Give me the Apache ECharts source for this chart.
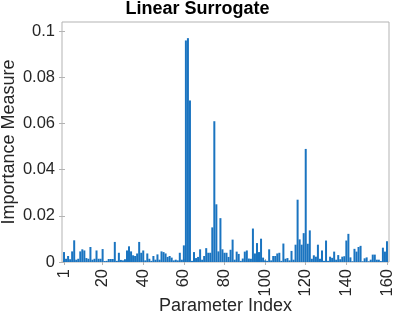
<!DOCTYPE html>
<html><head><meta charset="utf-8">
<script src="https://cdn.jsdelivr.net/npm/echarts@6/dist/echarts.min.js"></script>
<style>html,body{margin:0;padding:0;background:#fff}#c{width:395px;height:316px}</style>
</head><body><div id="c"></div>
<script>
const titleText = "Linear Surrogate";
const xName = "Parameter Index";
const yName = "Importance Measure";
const xTicks = [1, 20, 40, 60, 80, 100, 120, 140, 160];
const yTicks = [0, 0.02, 0.04, 0.06, 0.08, 0.1];
const importance = [
 0.0043,0.0014,0.0026,0.0012,0.0046,0.0094,0.0010,0.0014,0.0046,0.0055,
 0.0050,0.0017,0.0014,0.0065,0.0010,0.0014,0.0050,0.0014,0.0014,0.0056,
 0.0004,0.0005,0.0013,0.0013,0.0013,0.0087,0.0005,0.0040,0.0009,0.0007,
 0.0012,0.0050,0.0068,0.0046,0.0029,0.0026,0.0037,0.0087,0.0040,0.0050,
 0.0007,0.0037,0.0014,0.0005,0.0026,0.0010,0.0033,0.0010,0.0046,0.0043,
 0.0037,0.0022,0.0026,0.0019,0.0007,0.0010,0.0007,0.0040,0.0010,0.0072,
 0.0960,0.0970,0.0700,0.0005,0.0043,0.0017,0.0022,0.0055,0.0010,0.0026,
 0.0060,0.0040,0.0040,0.0150,0.0610,0.0250,0.0046,0.0190,0.0055,0.0040,
 0.0040,0.0022,0.0053,0.0097,0.0010,0.0045,0.0035,0.0005,0.0015,0.0045,
 0.0050,0.0015,0.0014,0.0145,0.0037,0.0082,0.0043,0.0101,0.0019,0.0007,
 0.0005,0.0055,0.0007,0.0026,0.0026,0.0037,0.0040,0.0005,0.0080,0.0014,
 0.0017,0.0007,0.0048,0.0010,0.0075,0.0270,0.0098,0.0075,0.0125,0.0490,
 0.0079,0.0137,0.0014,0.0029,0.0023,0.0075,0.0014,0.0050,0.0005,0.0093,
 0.0005,0.0023,0.0018,0.0045,0.0010,0.0030,0.0012,0.0023,0.0025,0.0093,
 0.0122,0.0020,0.0003,0.0057,0.0045,0.0065,0.0070,0.0003,0.0016,0.0020,
 0.0003,0.0010,0.0032,0.0032,0.0010,0.0010,0.0004,0.0062,0.0045,0.0090
];
const paramIndex = importance.map((_, i) => i + 1);

const FONT = "Liberation Sans";
const TXT = "#262626";
const AX = "#b3b3b3";
const chart = echarts.init(document.getElementById('c'), null, {renderer: 'canvas'});
chart.setOption({
  animation: false,
  title: {text: titleText, left: 'center', top: 0, padding: [0, 0, 0, 0],
    textStyle: {fontFamily: FONT, fontWeight: 'bold', fontSize: 18, color: '#000'}},
  grid: {left: 62, right: 6, top: 22, bottom: 54, show: true, borderColor: AX, borderWidth: 1,
    backgroundColor: '#fff', containLabel: false, outerBoundsMode: 'none'},
  graphic: [
    {type: 'text', x: 225.5, y: 306, style: {text: xName, fontFamily: FONT, fontSize: 18, fill: TXT,
      align: 'center', verticalAlign: 'middle'}},
    {type: 'text', x: 9, y: 142, rotation: Math.PI / 2, style: {text: yName, fontFamily: FONT, fontSize: 18, fill: TXT,
      align: 'center', verticalAlign: 'middle'}}
  ],
  xAxis: [{
    type: 'value', min: 0, max: 161, position: 'bottom',
    axisLine: {show: false}, splitLine: {show: false},
    axisTick: {inside: true, length: 3, customValues: xTicks, lineStyle: {color: AX}},
    axisLabel: {customValues: xTicks, rotate: 90, margin: 7, fontFamily: FONT, fontSize: 16.5, color: TXT}
  }, {
    type: 'value', min: 0, max: 161, position: 'top',
    axisLine: {show: false}, splitLine: {show: false},
    axisTick: {inside: true, length: 3, customValues: xTicks, lineStyle: {color: AX}},
    axisLabel: {show: false}
  }],
  yAxis: [{
    type: 'value', min: 0, max: 0.104, position: 'left',
    axisLine: {show: false}, splitLine: {show: false},
    axisTick: {inside: true, length: 3, customValues: yTicks, lineStyle: {color: AX}},
    axisLabel: {customValues: yTicks, margin: 7, fontFamily: FONT, fontSize: 16.5, color: TXT,
      formatter: v => String(+v.toFixed(4))}
  }, {
    type: 'value', min: 0, max: 0.104, position: 'right',
    axisLine: {show: false}, splitLine: {show: false},
    axisTick: {inside: true, length: 3, customValues: yTicks, lineStyle: {color: AX}},
    axisLabel: {show: false}
  }],
  series: [{
    type: 'bar', xAxisIndex: 0, yAxisIndex: 0,
    data: paramIndex.map((x, i) => [x, importance[i]]),
    barWidth: 2,
    itemStyle: {color: '#1a74c0'},
    silent: true
  }]
});
</script></body></html>
